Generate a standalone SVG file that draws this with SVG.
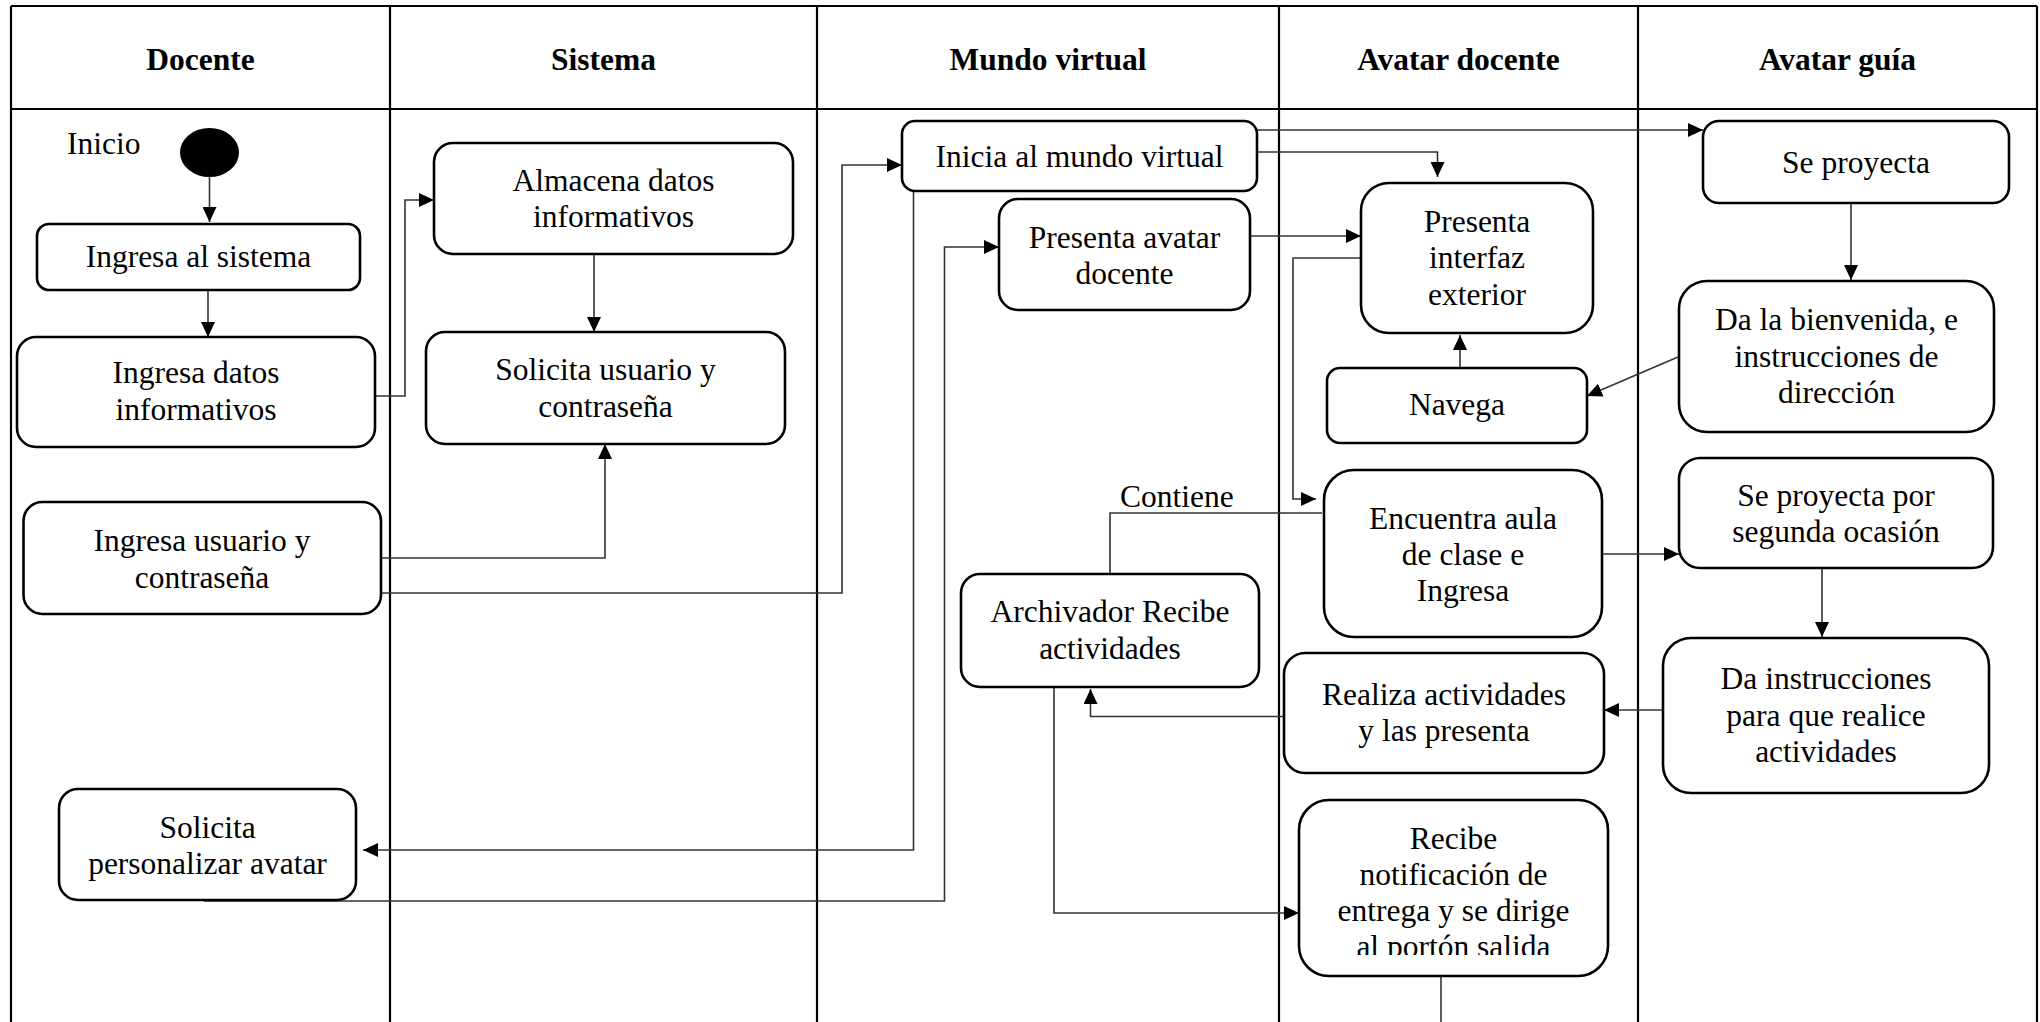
<svg xmlns="http://www.w3.org/2000/svg" width="2040" height="1022" viewBox="0 0 2040 1022">
  <defs>
    <style>
      .lane { stroke: #000; stroke-width: 2.2; fill: none; }
      .hdr { font-family: "Liberation Serif", "Times New Roman", serif; font-weight: bold; font-size: 31.5px; fill: #000; text-anchor: middle; }
      .box { fill: #fff; stroke: #000; stroke-width: 2.6; }
      .txt { font-family: "Liberation Serif", "Times New Roman", serif; font-size: 31.5px; fill: #000; text-anchor: middle; }
      .lbl { font-family: "Liberation Serif", "Times New Roman", serif; font-size: 31.5px; fill: #000; }
      .edge { fill: none; stroke: #333; stroke-width: 1.6; }
      .arrow { marker-end: url(#head); }
    </style>
    <marker id="head" markerUnits="userSpaceOnUse" markerWidth="16" markerHeight="14" refX="15" refY="7" orient="auto">
      <path d="M0,0 L15,7 L0,14 Z" fill="#000"/>
    </marker>
    <clipPath id="clipRecibe">
      <rect x="1299" y="800" width="309" height="155"/>
    </clipPath>
  </defs>

  <rect x="0" y="0" width="2040" height="1022" fill="#fff"/>

  <!-- swimlanes -->
  <g id="lanes">
    <path class="lane" d="M11,6 H2037 M11,109 H2037 M11,6 V1022 M390,6 V1022 M817,6 V1022 M1279,6 V1022 M1638,6 V1022 M2037,6 V1022"/>
    <text class="hdr" x="200.5" y="70">Docente</text>
    <text class="hdr" x="603.5" y="70">Sistema</text>
    <text class="hdr" x="1048" y="70">Mundo virtual</text>
    <text class="hdr" x="1458.5" y="70">Avatar docente</text>
    <text class="hdr" x="1837.5" y="70">Avatar guía</text>
  </g>

  <!-- connectors -->
  <g id="connectors">
    <path class="edge arrow" d="M209.5,177 V222"/>
    <path class="edge arrow" d="M208,290 V337"/>
    <path class="edge arrow" d="M375,396 H405 V200 H434"/>
    <path class="edge arrow" d="M594,254 V332"/>
    <path class="edge arrow" d="M381,558 H605 V444"/>
    <path class="edge arrow" d="M381,593 H842 V165 H902"/>
    <path class="edge arrow" d="M913.5,191 V850 H363"/>
    <path class="edge arrow" d="M204,901 H944.5 V247 H999"/>
    <path class="edge arrow" d="M1250,236 H1361"/>
    <path class="edge arrow" d="M1257,130 H1703"/>
    <path class="edge arrow" d="M1257,152 H1437.5 V177"/>
    <path class="edge arrow" d="M1460,368 V335"/>
    <path class="edge arrow" d="M1678,357 L1587,396"/>
    <path class="edge arrow" d="M1361,258 H1293 V499 H1316"/>
    <path class="edge" d="M1322,513 H1110 V574"/>
    <text class="lbl" x="1120" y="507">Contiene</text>
    <path class="edge arrow" d="M1602,554 H1679"/>
    <path class="edge arrow" d="M1851,203 V280"/>
    <path class="edge arrow" d="M1822,568 V637"/>
    <path class="edge arrow" d="M1663,710 H1604"/>
    <path class="edge arrow" d="M1284,716.5 H1090.5 V689"/>
    <path class="edge arrow" d="M1054,687 V913 H1299"/>
    <path class="edge" d="M1441,976 V1022"/>
  </g>

  <!-- Docente -->
  <g id="inicio">
    <ellipse cx="209.5" cy="152.5" rx="29.5" ry="24.5" fill="#000"/>
    <text class="lbl" x="67" y="154">Inicio</text>
  </g>
  <g id="ingresa-sistema">
    <rect class="box" x="37" y="224" width="323" height="66" rx="12"/>
    <text class="txt" x="198.5" y="267">Ingresa al sistema</text>
  </g>
  <g id="ingresa-datos">
    <rect class="box" x="17" y="337" width="358" height="110" rx="19"/>
    <text class="txt" x="196" y="383">Ingresa datos</text>
    <text class="txt" x="196" y="420">informativos</text>
  </g>
  <g id="ingresa-usuario">
    <rect class="box" x="23.5" y="502" width="357.5" height="112" rx="19"/>
    <text class="txt" x="202" y="551">Ingresa usuario y</text>
    <text class="txt" x="202" y="588">contraseña</text>
  </g>
  <g id="solicita-avatar">
    <rect class="box" x="59" y="789" width="297" height="111" rx="19"/>
    <text class="txt" x="207.5" y="838">Solicita</text>
    <text class="txt" x="207.5" y="874">personalizar avatar</text>
  </g>

  <!-- Sistema -->
  <g id="almacena">
    <rect class="box" x="434" y="143" width="359" height="111" rx="19"/>
    <text class="txt" x="613.5" y="191">Almacena datos</text>
    <text class="txt" x="613.5" y="227">informativos</text>
  </g>
  <g id="solicita-usuario">
    <rect class="box" x="426" y="332" width="359" height="112" rx="19"/>
    <text class="txt" x="605.5" y="380">Solicita usuario y</text>
    <text class="txt" x="605.5" y="417">contraseña</text>
  </g>

  <!-- Mundo virtual -->
  <g id="inicia-mundo">
    <rect class="box" x="902" y="121" width="355" height="70" rx="13"/>
    <text class="txt" x="1079.5" y="167">Inicia al mundo virtual</text>
  </g>
  <g id="presenta-avatar">
    <rect class="box" x="999" y="199" width="251" height="111" rx="19"/>
    <text class="txt" x="1124.5" y="248">Presenta avatar</text>
    <text class="txt" x="1124.5" y="284">docente</text>
  </g>
  <g id="archivador">
    <rect class="box" x="961" y="574" width="298" height="113" rx="19"/>
    <text class="txt" x="1110" y="622">Archivador Recibe</text>
    <text class="txt" x="1110" y="659">actividades</text>
  </g>

  <!-- Avatar docente -->
  <g id="presenta-interfaz">
    <rect class="box" x="1361" y="183" width="232" height="150" rx="28"/>
    <text class="txt" x="1477" y="232">Presenta</text>
    <text class="txt" x="1477" y="268">interfaz</text>
    <text class="txt" x="1477" y="305">exterior</text>
  </g>
  <g id="navega">
    <rect class="box" x="1327" y="368" width="260" height="75" rx="13"/>
    <text class="txt" x="1457" y="415">Navega</text>
  </g>
  <g id="encuentra-aula">
    <rect class="box" x="1324" y="470" width="278" height="167" rx="30"/>
    <text class="txt" x="1463" y="529">Encuentra aula</text>
    <text class="txt" x="1463" y="565">de clase e</text>
    <text class="txt" x="1463" y="601">Ingresa</text>
  </g>
  <g id="realiza-actividades">
    <rect class="box" x="1284" y="653" width="320" height="120" rx="21"/>
    <text class="txt" x="1444" y="705">Realiza actividades</text>
    <text class="txt" x="1444" y="741">y las presenta</text>
  </g>
  <g id="recibe-notificacion">
    <rect class="box" x="1299" y="800" width="309" height="176" rx="30"/>
    <g clip-path="url(#clipRecibe)">
      <text class="txt" x="1453.5" y="849">Recibe</text>
      <text class="txt" x="1453.5" y="885">notificación de</text>
      <text class="txt" x="1453.5" y="921">entrega y se dirige</text>
      <text class="txt" x="1453.5" y="957">al portón salida</text>
    </g>
  </g>

  <!-- Avatar guía -->
  <g id="se-proyecta">
    <rect class="box" x="1703" y="121" width="306" height="82" rx="16"/>
    <text class="txt" x="1856" y="173">Se proyecta</text>
  </g>
  <g id="bienvenida">
    <rect class="box" x="1679" y="281" width="315" height="151" rx="28"/>
    <text class="txt" x="1836.5" y="330">Da la bienvenida, e</text>
    <text class="txt" x="1836.5" y="367">instrucciones de</text>
    <text class="txt" x="1836.5" y="403">dirección</text>
  </g>
  <g id="segunda-ocasion">
    <rect class="box" x="1679" y="458" width="314" height="110" rx="21"/>
    <text class="txt" x="1836" y="506">Se proyecta por</text>
    <text class="txt" x="1836" y="542">segunda ocasión</text>
  </g>
  <g id="da-instrucciones">
    <rect class="box" x="1663" y="638" width="326" height="155" rx="28"/>
    <text class="txt" x="1826" y="689">Da instrucciones</text>
    <text class="txt" x="1826" y="726">para que realice</text>
    <text class="txt" x="1826" y="762">actividades</text>
  </g>
</svg>
